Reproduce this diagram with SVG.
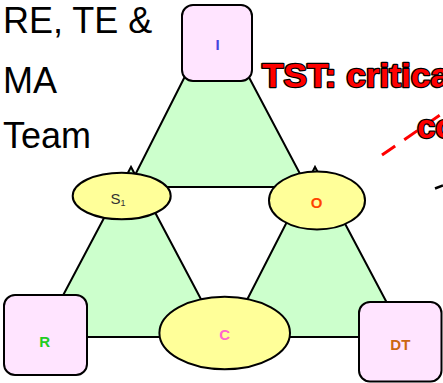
<svg xmlns="http://www.w3.org/2000/svg" width="443" height="383" viewBox="0 0 443 383">
<style>
.tri{fill:#ccffcc;stroke:#000;stroke-width:2;stroke-linejoin:miter}
.box{fill:#ffe4ff;stroke:#000;stroke-width:2}
.ell{fill:#ffff99;stroke:#000;stroke-width:2}
.lbl{font-family:"Liberation Sans",Arial,sans-serif;font-size:15px;font-weight:bold;text-anchor:middle}
.big{font-family:"Liberation Sans",Arial,sans-serif;font-size:36px;fill:#000}
.hot{font-family:"Liberation Sans",Arial,sans-serif;font-size:33px;font-weight:bold;fill:#ff0000;stroke:#000;stroke-width:2.5;paint-order:stroke;stroke-linejoin:round}
</style>
<rect width="443" height="383" fill="#fff"/>
<g id="title">
<text class="big" x="3" y="33">RE, TE &amp;</text>
<text class="big" x="3" y="93">MA</text>
<text class="big" x="3" y="148">Team</text>
</g>
<g id="connectors">
<polygon class="tri" points="216,15 129,187 307,187"/>
<polygon class="tri" points="131,167 41,337 221,337"/>
<polygon class="tri" points="315,167 228,337 405,337"/>
<line x1="382" y1="155" x2="443" y2="113" stroke="#ff0000" stroke-width="3" stroke-dasharray="16,11"/>
<line x1="435" y1="188.5" x2="443" y2="185.5" stroke="#000" stroke-width="2.5"/>
</g>
<g id="note">
<text class="hot" x="262" y="87" textLength="188" lengthAdjust="spacingAndGlyphs">TST: critica</text>
<text class="hot" x="417" y="138">co</text>
</g>
<g id="node-I">
<rect class="box" x="182" y="5" width="70" height="76" rx="11"/>
<text class="lbl" x="217.5" y="50" fill="#4444dd" font-weight="normal">I</text>
</g>
<g id="node-S1">
<ellipse class="ell" cx="121.7" cy="196" rx="49" ry="23.3"/>
<text x="118" y="204.3" font-family="'Liberation Sans',Arial,sans-serif" font-size="15" fill="#333" text-anchor="middle">S<tspan font-size="9" dy="2">1</tspan></text>
</g>
<g id="node-O">
<ellipse class="ell" cx="317" cy="200.5" rx="48" ry="29"/>
<text class="lbl" x="316.5" y="207.5" fill="#ff4400">O</text>
</g>
<g id="node-R">
<rect class="box" x="4" y="295" width="83" height="80" rx="11"/>
<text class="lbl" x="44.7" y="346.5" fill="#22cc22">R</text>
</g>
<g id="node-C">
<ellipse class="ell" cx="224.7" cy="333" rx="65.3" ry="36.3"/>
<text class="lbl" x="224.7" y="340" fill="#ff66cc">C</text>
</g>
<g id="node-DT">
<rect class="box" x="359" y="302" width="82.5" height="79.5" rx="11"/>
<text class="lbl" x="400.3" y="350" fill="#cc6611">DT</text>
</g>
</svg>
